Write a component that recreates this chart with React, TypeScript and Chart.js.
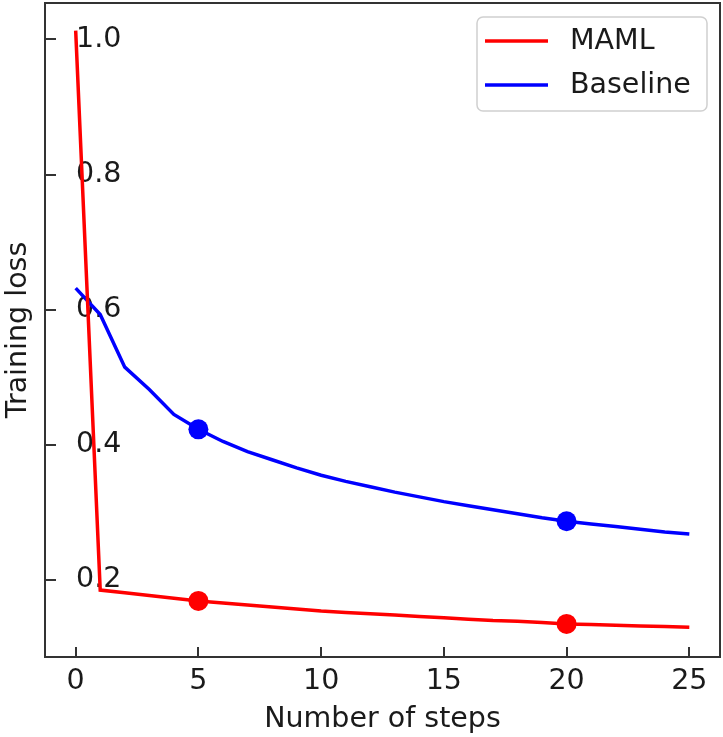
import React, { useEffect, useRef } from "react";
import { Chart, registerables } from "chart.js";

Chart.register(...registerables);

const steps = [0, 1, 2, 3, 4, 5, 6, 7, 8, 9, 10, 11, 12, 13, 14, 15, 16, 17, 18, 19, 20, 21, 22, 23, 24, 25];
const mamlLoss = [1.013, 0.185, 0.181, 0.177, 0.173, 0.169, 0.166, 0.163, 0.160, 0.157, 0.154, 0.152, 0.150, 0.148, 0.146, 0.144, 0.142, 0.140, 0.139, 0.137, 0.135, 0.134, 0.133, 0.132, 0.131, 0.130];
const baselineLoss = [0.632, 0.593, 0.515, 0.482, 0.445, 0.423, 0.405, 0.390, 0.378, 0.366, 0.355, 0.346, 0.338, 0.330, 0.323, 0.316, 0.310, 0.304, 0.298, 0.292, 0.287, 0.283, 0.279, 0.275, 0.271, 0.268];
const markedSteps = [5, 20];
const xTicks = [0, 5, 10, 15, 20, 25];
const yTicks = [0.2, 0.4, 0.6, 0.8, 1.0];
const seriesNames = ["MAML", "Baseline"];
const seriesColors = ["#ff0000", "#0000ff"];

const FONT = "'DejaVu Sans', sans-serif";
const TEXT = "#1a1a1a";
const FS = 28.5;

export default function App() {
  const ref = useRef<HTMLCanvasElement | null>(null);
  useEffect(() => {
    document.body.style.margin = "0";
    const canvas = ref.current!;
    const series = [mamlLoss, baselineLoss];

    const framePlugin = {
      id: "frame",
      afterDatasetsDraw(chart: any) {
        const { ctx, chartArea } = chart;
        const xs = chart.scales.x;
        const ys = chart.scales.y;
        ctx.save();
        ctx.strokeStyle = "#333333";
        ctx.lineWidth = 2;
        ctx.beginPath();
        xTicks.forEach((t) => {
          const px = Math.round(xs.getPixelForValue(t));
          ctx.moveTo(px, chartArea.bottom);
          ctx.lineTo(px, chartArea.bottom - 10);
        });
        yTicks.forEach((t) => {
          const py = Math.round(ys.getPixelForValue(t));
          ctx.moveTo(chartArea.left, py);
          ctx.lineTo(chartArea.left + 11, py);
        });
        ctx.stroke();
        ctx.strokeRect(chartArea.left, chartArea.top, chartArea.right - chartArea.left, chartArea.bottom - chartArea.top);
        ctx.restore();

        // legend
        const bx = 477, by = 17, bw = 230, bh = 94, r = 6;
        ctx.save();
        ctx.beginPath();
        ctx.moveTo(bx + r, by);
        ctx.arcTo(bx + bw, by, bx + bw, by + bh, r);
        ctx.arcTo(bx + bw, by + bh, bx, by + bh, r);
        ctx.arcTo(bx, by + bh, bx, by, r);
        ctx.arcTo(bx, by, bx + bw, by, r);
        ctx.closePath();
        ctx.fillStyle = "rgba(255,255,255,0.85)";
        ctx.fill();
        ctx.strokeStyle = "#d0d0d0";
        ctx.lineWidth = 1.5;
        ctx.stroke();
        seriesNames.forEach((name, i) => {
          const y = 41 + i * 44;
          ctx.strokeStyle = seriesColors[i];
          ctx.lineWidth = 3.5;
          ctx.beginPath();
          ctx.moveTo(485, y);
          ctx.lineTo(548, y);
          ctx.stroke();
          ctx.fillStyle = TEXT;
          ctx.font = `${FS}px ${FONT}`;
          ctx.textBaseline = "middle";
          ctx.textAlign = "left";
          ctx.fillText(name, 570, y + 1);
        });
        ctx.restore();
      },
    };

    const chart = new Chart(canvas, {
      type: "line",
      data: {
        labels: steps,
        datasets: series.map((vals, i) => ({
          label: seriesNames[i],
          data: steps.map((s, j) => ({ x: s, y: vals[j] })),
          borderColor: seriesColors[i],
          backgroundColor: seriesColors[i],
          borderWidth: 3.5,
          tension: 0,
          pointRadius: steps.map((s) => (markedSteps.includes(s) ? 10 : 0)),
          pointHoverRadius: 0,
          pointBorderWidth: 0,
        })),
      },
      options: {
        animation: false,
        responsive: false,
        layout: { padding: { top: 3, right: 3, left: 0, bottom: 0 } },
        plugins: { legend: { display: false }, tooltip: { enabled: false } },
        scales: {
          x: {
            type: "linear",
            min: -1.25,
            max: 26.25,
            border: { display: false },
            grid: { display: false, drawTicks: false },
            afterBuildTicks: (s: any) => {
              s.ticks = xTicks.map((v) => ({ value: v }));
            },
            afterFit: (s: any) => {
              s.height = 80;
              s.paddingLeft = 0;
              s.paddingRight = 0;
            },
            ticks: {
              color: TEXT,
              font: { family: FONT, size: FS },
              padding: 7,
              maxRotation: 0,
            },
            title: {
              display: true,
              text: "Number of steps",
              color: TEXT,
              font: { family: FONT, size: FS },
              padding: { top: 0, bottom: 0 },
            },
          },
          y: {
            type: "linear",
            min: 0.086,
            max: 1.054,
            border: { display: false },
            grid: { display: false, drawTicks: false },
            afterBuildTicks: (s: any) => {
              s.ticks = yTicks.map((v) => ({ value: v }));
            },
            afterFit: (s: any) => {
              s.width = 45;
              s.paddingTop = 0;
              s.paddingBottom = 0;
            },
            ticks: {
              mirror: true,
              padding: 31,
              color: TEXT,
              font: { family: FONT, size: FS },
              callback: (v: any) => Number(v).toFixed(1),
            },
            title: {
              display: true,
              text: "Training loss",
              color: TEXT,
              font: { family: FONT, size: FS },
              padding: { top: 1, bottom: 0 },
            },
          },
        },
      },
      plugins: [framePlugin],
    });
    return () => chart.destroy();
  }, []);
  return (
    <div style={{ width: 723, height: 737, position: "relative" }}>
      <canvas ref={ref} width={723} height={737} style={{ display: "block" }} />
    </div>
  );
}
